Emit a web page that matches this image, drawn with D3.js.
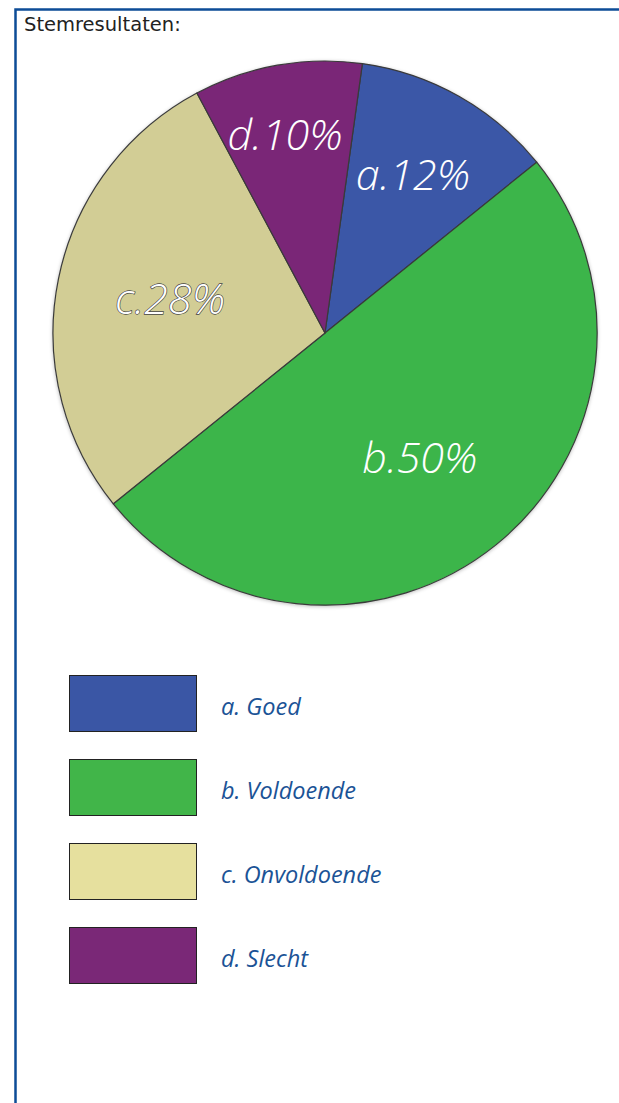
<!DOCTYPE html>
<html><head><meta charset="utf-8">
<script src="https://cdn.jsdelivr.net/npm/d3@7"></script>
<style>html,body{margin:0;padding:0;background:#fff;}svg{display:block;}</style>
</head><body>
<script>
const categories = ["a", "b", "c", "d"];
const legendLabels = ["a. Goed", "b. Voldoende", "c. Onvoldoende", "d. Slecht"];
const values = [12, 50, 28, 10];
const sliceColors = ["#3b57a7", "#3cb54a", "#d2cd95", "#7a2677"];
const legendColors = ["#3a56a5", "#41b549", "#e6e09e", "#7a2877"];
const title = "Stemresultaten:";

const W = 619, H = 1103;
const svg = d3.select("body").append("svg").attr("width", W).attr("height", H);

// frame
svg.append("path").attr("d", `M15.5,${H} V9.5 H${W}`).attr("fill", "none").attr("stroke", "#0d4c97").attr("stroke-width", 2.5);
svg.append("text").attr("x", 24).attr("y", 31).attr("font-family", "DejaVu Sans, Verdana, sans-serif")
  .attr("font-size", 19.5).attr("fill", "#222").text(title);

const cx = 325, cy = 333, R = 272;
const deg = Math.PI / 180;
const startA = 7.9 * deg;
const pie = d3.pie().sort(null).startAngle(startA).endAngle(startA + 2 * Math.PI);
const arcs = pie(values);
const arc = d3.arc().innerRadius(0).outerRadius(R);
const g = svg.append("g").attr("transform", `translate(${cx},${cy})`);

const defs = svg.append("defs");
const f = defs.append("filter").attr("id", "sh").attr("x", "-10%").attr("y", "-10%").attr("width", "120%").attr("height", "120%");
f.append("feGaussianBlur").attr("in", "SourceAlpha").attr("stdDeviation", 2);
f.append("feOffset").attr("dx", 0).attr("dy", 1).attr("result", "b");
f.append("feComponentTransfer").append("feFuncA").attr("type", "linear").attr("slope", 0.35);
const fm = f.append("feMerge");
fm.append("feMergeNode");
fm.append("feMergeNode").attr("in", "SourceGraphic");

g.append("circle").attr("r", R).attr("fill", "#fff").attr("filter", "url(#sh)");
g.selectAll("path.s").data(arcs).enter().append("path").attr("class", "s")
  .attr("d", arc).attr("fill", (d, i) => sliceColors[i])
  .attr("stroke", "#3a3a3a").attr("stroke-width", 1.2).attr("stroke-linejoin", "round");

// labels
const labelR = [0.665, 0.577, 0.584, 0.743];
const labelShift = [1.2, 3.3, 2.8, 0.3];
arcs.forEach((d, i) => {
  const a = (d.startAngle + d.endAngle) / 2 + (labelShift[i] - 1.6) * deg;
  const r = R * labelR[i];
  const x = Math.sin(a) * r, y = -Math.cos(a) * r;
  const t = g.append("text").attr("x", x).attr("y", y).attr("dy", "0.36em")
    .attr("text-anchor", "middle").attr("font-family", "Open Sans, sans-serif")
    .attr("font-style", "italic").attr("font-weight", 300).attr("font-size", 43)
    .attr("fill", "#fff").text(categories[i] + "." + values[i] + "%");
  if (i === 2) t.attr("stroke", "#444").attr("stroke-width", 1.3).attr("paint-order", "stroke");
});

// legend
const ly = d3.scaleBand().domain(categories).range([675, 675 + 84 * 4]).paddingInner(0);
const lg = svg.append("g");
categories.forEach((c, i) => {
  const y = ly(c);
  lg.append("rect").attr("x", 69.5).attr("y", y + 0.5).attr("width", 127).attr("height", 56)
    .attr("fill", legendColors[i]).attr("stroke", "#222").attr("stroke-width", 1);
  lg.append("text").attr("x", 221).attr("y", y + 40).attr("font-family", "Open Sans, sans-serif")
    .attr("font-style", "italic").attr("font-size", 23.5).attr("fill", "#1b5396").text(legendLabels[i]);
});
</script>
</body></html>
